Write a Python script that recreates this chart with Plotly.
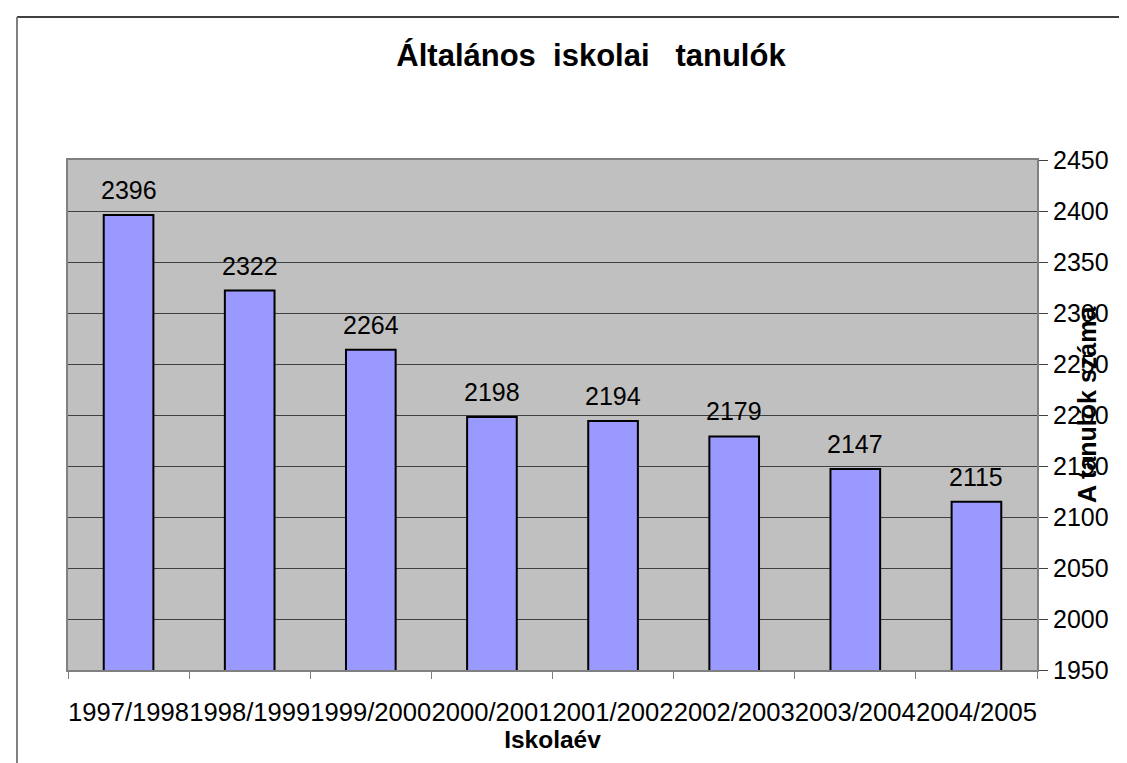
import plotly.graph_objects as go

# Data
school_years = ['1997/1998', '1998/1999', '1999/2000', '2000/2001',
                '2001/2002', '2002/2003', '2003/2004', '2004/2005']
pupils = [2396, 2322, 2264, 2198, 2194, 2179, 2147, 2115]
y_ticks = list(range(1950, 2451, 50))

FONT = 'Liberation Sans, Arial, sans-serif'
W, H = 1127, 763
L, R, T, B = 60, 98, 152, 101

fig = go.Figure()

fig.add_trace(go.Bar(
    x=school_years,
    y=pupils,
    width=0.41,
    marker=dict(color='#9999FF', line=dict(color='black', width=2)),
    hoverinfo='x+y',
))

# Value labels sit a bit above each bar
for yr, val in zip(school_years, pupils):
    fig.add_annotation(
        x=yr, y=val, text=str(val), showarrow=False,
        yanchor='bottom', yshift=9,
        font=dict(family=FONT, size=25, color='black'),
    )

# Y axis title overlaps the tick labels, like in the original
fig.add_annotation(
    xref='paper', yref='paper',
    x=1 + (1095 - (W - R)) / (W - L - R), y=0.5 + 10 / (H - T - B),
    text='<b>A tanulók száma</b>', textangle=-90, showarrow=False,
    font=dict(family=FONT, size=25, color='black'),
)

# Outer frame (only top and left edges are visible)
pw, ph = W - L - R, H - T - B
x_left = (9 - L) / pw
y_top = 1 + (T - 9) / ph
fig.add_shape(type='line', xref='paper', yref='paper',
              x0=x_left, x1=1 + (W - L) / pw, y0=y_top, y1=y_top,
              line=dict(color='#404040', width=2))
fig.add_shape(type='line', xref='paper', yref='paper',
              x0=x_left, x1=x_left, y0=y_top, y1=-(H - T) / ph,
              line=dict(color='#808080', width=2))

fig.update_layout(
    width=W, height=H,
    margin=dict(l=L, r=R, t=T, b=B),
    paper_bgcolor='white',
    plot_bgcolor='#C0C0C0',
    showlegend=False,
    font=dict(family=FONT, size=25, color='black'),
    title=dict(
        text='<b>Általános  iskolai   tanulók</b>',
        x=583 / W, xref='container', xanchor='center',
        y=1 - 47 / H, yref='container', yanchor='middle',
        font=dict(family=FONT, size=31, color='black'),
    ),
    xaxis=dict(
        type='category',
        tickson='boundaries',
        ticks='outside', ticklen=7, tickcolor='#808080', tickwidth=1,
        tickangle=0,
        ticklabelstandoff=18,
        tickfont=dict(family=FONT, size=25.6),
        showline=True, linecolor='#808080', linewidth=2, mirror=True,
        showgrid=False,
        title=dict(text='<b>Iskolaév</b>', standoff=0,
                   font=dict(family=FONT, size=24.5)),
    ),
    yaxis=dict(
        side='right',
        range=[1950, 2450],
        tickvals=y_ticks,
        ticks='outside', ticklen=9, tickcolor='#404040', tickwidth=1,
        tickfont=dict(family=FONT, size=25),
        showline=True, linecolor='#808080', linewidth=2, mirror=True,
        showgrid=True, gridcolor='#404040', gridwidth=1,
        zeroline=False,
    ),
)

fig.write_html('out.html')
